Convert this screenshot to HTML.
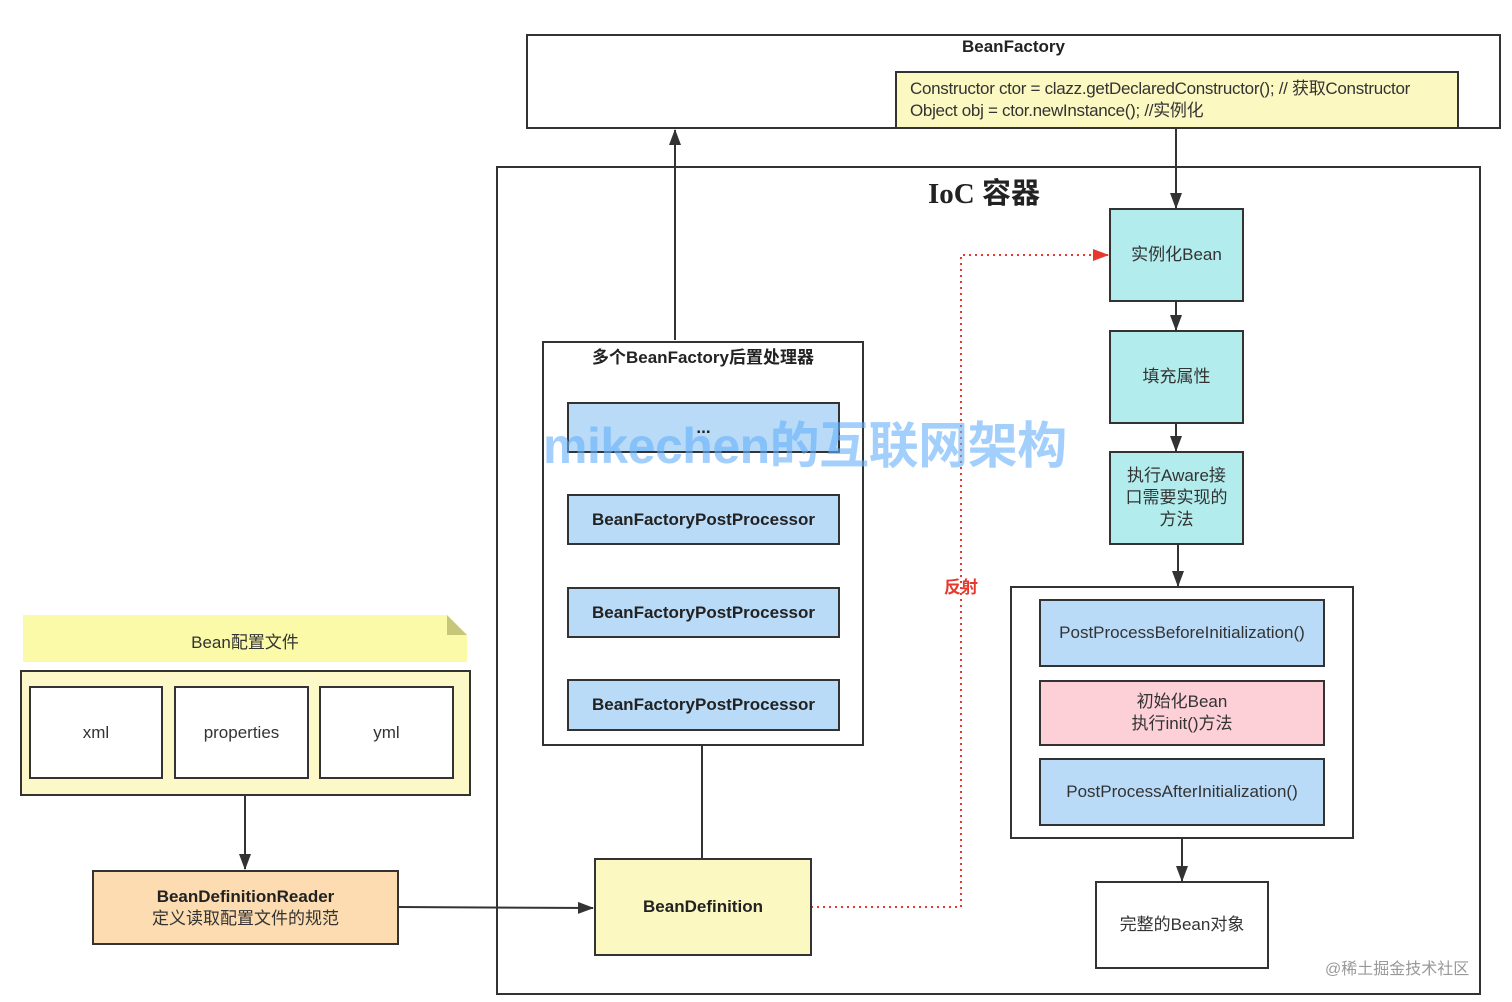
<!DOCTYPE html>
<html><head><meta charset="utf-8"><style>
html,body{margin:0;padding:0;background:#fff;}
body{width:1512px;height:1002px;position:relative;overflow:hidden;font-family:"Liberation Sans","Noto Sans CJK SC",sans-serif;color:#333;}
.b{position:absolute;box-sizing:border-box;border:2.5px solid #333;display:flex;align-items:center;justify-content:center;text-align:center;font-size:17px;line-height:22px;}
.t{position:absolute;white-space:nowrap;}
.bfpp{background:#b9dbf8;font-weight:bold;font-size:17px;color:#222;}
.cy{background:#b2ecec;}
</style></head><body>
<svg width="1512" height="1002" style="position:absolute;left:0;top:0">
<defs><marker id="a" markerWidth="16" markerHeight="12" refX="15" refY="6" orient="auto" markerUnits="userSpaceOnUse"><path d="M0,0 L16,6 L0,12 z" fill="#333"/></marker>
<marker id="r" markerWidth="16" markerHeight="12" refX="15" refY="6" orient="auto" markerUnits="userSpaceOnUse"><path d="M0,0 L16,6 L0,12 z" fill="#e8372c"/></marker></defs>
<g stroke="#333" stroke-width="2" fill="none">
<rect x="527" y="35" width="973" height="93" fill="#fff"/>
<rect x="497" y="167" width="983" height="827"/>
<line x1="675" y1="340" x2="675" y2="130" marker-end="url(#a)"/>
<line x1="1176" y1="128" x2="1176" y2="208" marker-end="url(#a)"/>
<line x1="1176" y1="301" x2="1176" y2="330" marker-end="url(#a)"/>
<line x1="1176" y1="423" x2="1176" y2="451" marker-end="url(#a)"/>
<line x1="1178" y1="544" x2="1178" y2="586" marker-end="url(#a)"/>
<line x1="1182" y1="838" x2="1182" y2="881" marker-end="url(#a)"/>
<line x1="702" y1="745" x2="702" y2="858"/>
<line x1="245" y1="795" x2="245" y2="869" marker-end="url(#a)"/>
<line x1="398" y1="907" x2="593" y2="908" marker-end="url(#a)"/>
</g>
<polyline points="811,907 961,907 961,255 1108,255" fill="none" stroke="#e8372c" stroke-width="2" stroke-dasharray="2,4" marker-end="url(#r)"/>
<path d="M23,615 L447,615 L467,635 L467,662 L23,662 z" fill="#fbfaa8"/>
<path d="M447,615 L467,635 L447,635 z" fill="#c8c67a"/>
</svg>
<div class="t" style="left:0;width:2027px;top:37px;text-align:center;font-weight:bold;font-size:17px;color:#222">BeanFactory</div>
<div class="b" style="left:895px;top:71px;width:564px;height:58px;background:#fcf8c2;justify-content:flex-start;text-align:left;padding-left:13px;font-size:17px;color:#333;letter-spacing:-0.3px">Constructor ctor = clazz.getDeclaredConstructor(); // 获取Constructor<br>Object obj = ctor.newInstance(); //实例化</div>
<div class="t" style="left:928px;top:170px;font-weight:bold;font-size:29px;color:#222;font-family:'Liberation Serif','Noto Sans CJK SC',serif">IoC <span style="font-family:'Noto Sans CJK SC',sans-serif">容器</span></div>
<div class="b cy" style="left:1109px;top:208px;width:135px;height:94px">实例化Bean</div>
<div class="b cy" style="left:1109px;top:330px;width:135px;height:94px">填充属性</div>
<div class="b cy" style="left:1109px;top:451px;width:135px;height:94px">执行Aware接<br>口需要实现的<br>方法</div>
<div class="b" style="left:1010px;top:586px;width:344px;height:253px"></div>
<div class="b" style="left:1039px;top:599px;width:286px;height:68px;background:#b9dbf8">PostProcessBeforeInitialization()</div>
<div class="b" style="left:1039px;top:680px;width:286px;height:66px;background:#fdd0d8">初始化Bean<br>执行init()方法</div>
<div class="b" style="left:1039px;top:758px;width:286px;height:68px;background:#b9dbf8">PostProcessAfterInitialization()</div>
<div class="b" style="left:1095px;top:881px;width:174px;height:88px;background:#fff">完整的Bean对象</div>
<div class="b" style="left:542px;top:341px;width:322px;height:405px;background:#fff"></div>
<div class="t" style="left:542px;width:322px;top:343px;text-align:center;font-weight:bold;font-size:17px;color:#222">多个BeanFactory后置处理器</div>
<div class="b bfpp" style="left:567px;top:402px;width:273px;height:51px">...</div>
<div class="b bfpp" style="left:567px;top:494px;width:273px;height:51px">BeanFactoryPostProcessor</div>
<div class="b bfpp" style="left:567px;top:587px;width:273px;height:51px">BeanFactoryPostProcessor</div>
<div class="b bfpp" style="left:567px;top:679px;width:273px;height:52px">BeanFactoryPostProcessor</div>
<div class="b" style="left:594px;top:858px;width:218px;height:98px;background:#fcf8c2;font-weight:bold;color:#222">BeanDefinition</div>
<div class="t" style="left:944px;top:573px;color:#e8372c;font-weight:bold;font-size:17px">反射</div>
<div class="t" style="left:23px;width:444px;top:628px;text-align:center;font-size:17px">Bean配置文件</div>
<div class="b" style="left:20px;top:670px;width:451px;height:126px;background:#fcf8c8"></div>
<div class="b" style="left:29px;top:686px;width:134px;height:93px;background:#fff">xml</div>
<div class="b" style="left:174px;top:686px;width:135px;height:93px;background:#fff">properties</div>
<div class="b" style="left:319px;top:686px;width:135px;height:93px;background:#fff">yml</div>
<div class="b" style="left:92px;top:870px;width:307px;height:75px;background:#fcdcb0"><div><b style="color:#222">BeanDefinitionReader</b><br>定义读取配置文件的规范</div></div>
<div class="t" style="left:543px;top:406px;font-size:50px;font-weight:bold;color:rgba(100,175,250,0.6);font-family:'Liberation Sans','Noto Sans CJK SC',sans-serif;letter-spacing:-0.5px">mikechen的互联网架构</div>
<div class="t" style="left:1325px;top:955px;font-size:16px;color:#999">@稀土掘金技术社区</div>
</body></html>
